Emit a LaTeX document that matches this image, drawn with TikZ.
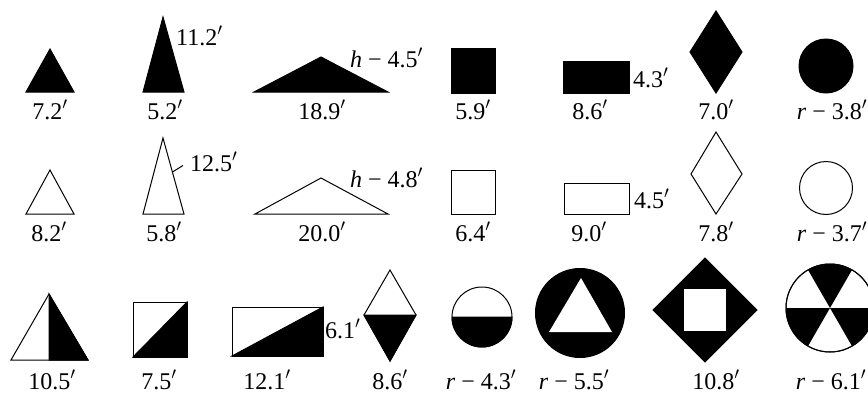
\documentclass[tikz,border=0pt]{standalone}
\usepackage{fontspec}
\setmainfont{Liberation Serif}
\usetikzlibrary{calc}
\newcommand{\pr}{$'$}
\tikzset{
  lab/.style={font=\fontsize{24}{26}\selectfont, inner sep=0pt, anchor=base, text depth=0pt},
  sidelab/.style={lab, anchor=base west},
  blk/.style={fill=black, draw=black, line width=1pt, line join=miter},
  wht/.style={fill=white, draw=black, line width=1pt, line join=miter},
  leader/.style={draw=black, line width=1pt}
}
\begin{document}
\begin{tikzpicture}[x=1pt,y=-1pt]
\useasboundingbox[fill=white] (0,0) rectangle (868,394);
% ---------- Row 1 (solid) ----------
\path[blk] (26,92) -- (50,49) -- (74,92) -- cycle;
\path[blk] (143,92) -- (163,17) -- (184,92) -- cycle;
\path[blk] (254,92) -- (321,57) -- (388,92) -- cycle;
\path[blk] (451,48) rectangle (495,93);
\path[blk] (563,61) rectangle (629,93);
\path[blk] (716,11) -- (742,52) -- (716,93) -- (690,52) -- cycle;
\path[blk] (826,66) circle[radius=27];
\node[lab] (l11) at (50,119) {7.2\pr};
\node[lab] (l12) at (165,119) {5.2\pr};
\node[lab] (l13) at (322,119) {18.9\pr};
\node[lab] (l14) at (473,119) {5.9\pr};
\node[lab] (l15) at (590,119) {8.6\pr};
\node[lab] (l16) at (716,119) {7.0\pr};
\node[lab] (l17) at (832,119) {\textit{r} − 3.8\pr};
\node[sidelab] (s11) at (176,45) {11.2\pr};
\node[sidelab] (s12) at (350,67) {\textit{h} − 4.5\pr};
\node[sidelab] (s13) at (633,87) {4.3\pr};
% ---------- Row 2 (outline) ----------
\path[wht] (26,214) -- (50,170) -- (74,214) -- cycle;
\path[wht] (143,214) -- (163,138) -- (184,214) -- cycle;
\path[wht] (255,214) -- (321,178) -- (388,214) -- cycle;
\path[wht] (451,170) rectangle (495,214);
\path[wht] (564,183) rectangle (629,214);
\path[wht] (716,132) -- (742,174) -- (716,214) -- (691,174) -- cycle;
\path[wht] (826,188) circle[radius=26.5];
\node[lab] (l21) at (49,241) {8.2\pr};
\node[lab] (l22) at (164,241) {5.8\pr};
\node[lab] (l23) at (322,241) {20.0\pr};
\node[lab] (l24) at (473,241) {6.4\pr};
\node[lab] (l25) at (589,241) {9.0\pr};
\node[lab] (l26) at (716,241) {7.8\pr};
\node[lab] (l27) at (832,241) {\textit{r} − 3.7\pr};
\node[sidelab] (s21) at (190,171) {12.5\pr};
\coordinate (e21) at (172.5,172);
\coordinate (f21) at (183,165.5);
\draw[leader] (e21) -- (f21);
\node[sidelab] (s22) at (350,187) {\textit{h} − 4.8\pr};
\node[sidelab] (s23) at (634,208) {4.5\pr};
% ---------- Row 3 (combined) ----------
\path[wht] (11,360) -- (49,294) -- (88,360) -- cycle;
\path[blk] (49,294) -- (88,360) -- (49,360) -- cycle;
\path[wht] (133,302) rectangle (187,357);
\path[blk] (133,357) -- (187,302) -- (187,357) -- cycle;
\path[wht] (232,307) rectangle (323,356);
\path[blk] (232,356) -- (323,307) -- (323,356) -- cycle;
\path[wht] (390,270) -- (416,315) -- (390,361) -- (364,315) -- cycle;
\path[blk] (364,315) -- (416,315) -- (390,361) -- cycle;
% half circle
\path[wht] (482,317) circle[radius=30];
\path[blk] (452,317) arc[start angle=180, end angle=0, radius=30] -- cycle;
% circle with triangle
\path[blk] (580,313) circle[radius=44.5];
\path[fill=white] (581,278) -- (612,332) -- (549,332) -- cycle;
% diamond with square
\path[blk] (705,258) -- (757,310) -- (705,362) -- (653,310) -- cycle;
\path[fill=white] (684,289) rectangle (726,331);
% six-sector circle
\path[wht] (830,308) circle[radius=44];
\fill[black] (830,308) -- ($(830,308)+(-60:44)$) arc[start angle=-60, end angle=-120, radius=44] -- cycle;
\fill[black] (830,308) -- ($(830,308)+(180:44)$) arc[start angle=180, end angle=120, radius=44] -- cycle;
\fill[black] (830,308) -- ($(830,308)+(60:44)$) arc[start angle=60, end angle=0, radius=44] -- cycle;
\draw[line width=1pt] (830,308) circle[radius=44];
\node[lab] (l31) at (52,389) {10.5\pr};
\node[lab] (l32) at (159,389) {7.5\pr};
\node[lab] (l33) at (267,389) {12.1\pr};
\node[lab] (l34) at (390,389) {8.6\pr};
\node[lab] (l35) at (481,389) {\textit{r} − 4.3\pr};
\node[lab] (l36) at (574,389) {\textit{r} − 5.5\pr};
\node[lab] (l37) at (716,389) {10.8\pr};
\node[lab] (l38) at (831,389) {\textit{r} − 6.1\pr};
\node[sidelab] (s31) at (325,338) {6.1\pr};
\end{tikzpicture}
\end{document}
